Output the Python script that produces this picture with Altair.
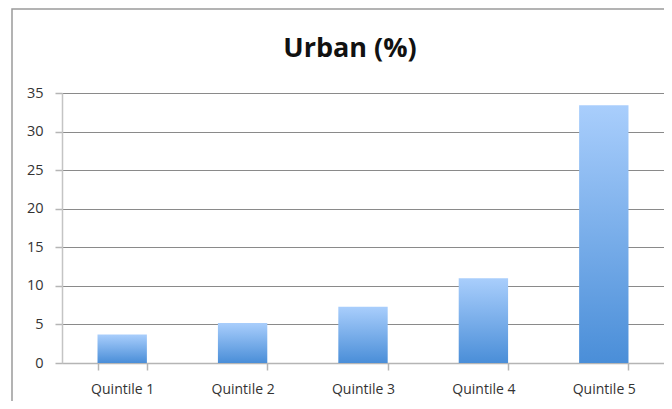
import altair as alt
import pandas as pd

title_text = "Urban (%)"
categories = ["Quintile 1", "Quintile 2", "Quintile 3", "Quintile 4", "Quintile 5"]
values = [3.7, 5.2, 7.3, 11.0, 33.4]
y_ticks = [0, 5, 10, 15, 20, 25, 30, 35]

df = pd.DataFrame({"cat": categories, "val": values})

FONT = "Open Sans"

grad = alt.Gradient(
    gradient="linear",
    stops=[alt.GradientStop(color="#a9cefc", offset=0),
           alt.GradientStop(color="#4a8ed8", offset=1)],
    x1=0, x2=0, y1=0, y2=1,
)

deco = alt.Chart(pd.DataFrame({"t": [title_text]}))

frame = deco.mark_rect(
    filled=False, stroke="#9a9a9a", strokeWidth=1.5
).encode(
    x=alt.value(-50), x2=alt.value(700),
    y=alt.value(-84), y2=alt.value(400),
)

title = deco.mark_text(
    font=FONT, fontSize=27, fontWeight="bold", color="#111111",
    align="center", baseline="alphabetic",
).encode(text="t:N", x=alt.value(288), y=alt.value(-36))

bars = alt.Chart(df).mark_bar(fill=grad).encode(
    x=alt.X("cat:N", sort=categories,
            scale=alt.Scale(paddingInner=0.59, paddingOuter=0.295),
            axis=alt.Axis(title=None, labelAngle=0, tickBand="extent",
                          domainColor="#b5b5b5", domainWidth=1.5,
                          tickColor="#b5b5b5", tickWidth=1.5, tickSize=7,
                          labelPadding=12, labelFontSize=14,
                          labelColor="#333333", labelFont=FONT, grid=False)),
    y=alt.Y("val:Q", scale=alt.Scale(domain=[0, 35], nice=False),
            axis=alt.Axis(title=None, values=y_ticks,
                          domainColor="#c4c4c4", domainWidth=1.5,
                          tickColor="#b5b5b5", tickWidth=1.5, tickSize=7,
                          labelPadding=12, labelFontSize=14.5,
                          labelColor="#333333", labelFont=FONT,
                          gridColor="#8a8a8a", gridWidth=1.2)),
)

chart = alt.layer(frame, bars, title).properties(
    width=602, height=270,
    autosize=alt.AutoSizeParams(type="none"),
    padding={"left": 54, "top": 85, "right": 0, "bottom": 38},
).configure_view(stroke=None).configure(background="white")

chart.save("out.html", embed_options={"renderer": "svg", "actions": False})
